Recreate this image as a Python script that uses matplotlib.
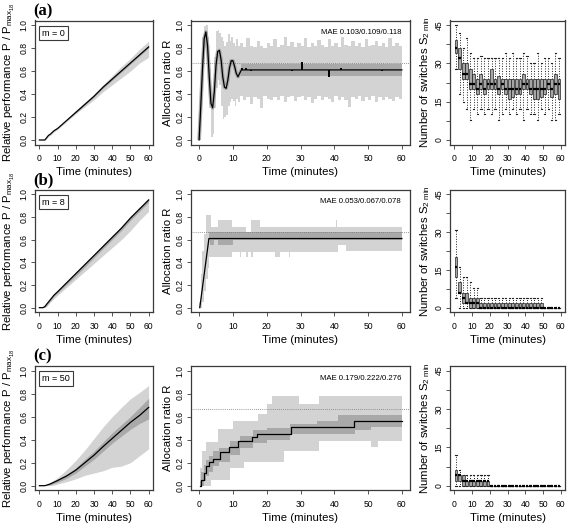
import numpy as np
import matplotlib
matplotlib.use('Agg')
import matplotlib.pyplot as plt

plt.rcParams['font.family'] = ['Liberation Sans', 'DejaVu Sans']
plt.rcParams['mathtext.fontset'] = 'custom'
plt.rcParams['mathtext.rm'] = 'Liberation Sans'
plt.rcParams['mathtext.it'] = 'Liberation Sans:italic'

## ---------------- data ----------------
panel_tags = ['(a)', '(b)', '(c)']
m_labels = ['m = 0', 'm = 8', 'm = 50']
mae_labels = ['MAE 0.103/0.109/0.118', 'MAE 0.053/0.067/0.078', 'MAE 0.179/0.222/0.276']
r_target = 0.667

# left column: relative performance (median, inner band, outer band)
perf_t = [0, 2, 3, 4, 5, 6, 8, 10, 15, 20, 25, 30, 35, 40, 45, 50, 55, 60]
perf_a = [0, 0, 0, 0.02, 0.04, 0.05, 0.08, 0.10, 0.17, 0.24, 0.31, 0.38, 0.46, 0.53, 0.60, 0.67, 0.74, 0.81]
perf_a_hi = [0, 0, 0.01, 0.03, 0.05, 0.06, 0.09, 0.11, 0.18, 0.26, 0.33, 0.40, 0.48, 0.56, 0.64, 0.71, 0.79, 0.86]
perf_a_lo = [0, 0, 0, 0.01, 0.03, 0.04, 0.07, 0.09, 0.16, 0.23, 0.29, 0.35, 0.42, 0.48, 0.54, 0.60, 0.67, 0.72]
perf_a_q3 = [0, 0, 0, 0.02, 0.04, 0.05, 0.08, 0.10, 0.17, 0.245, 0.315, 0.385, 0.465, 0.535, 0.61, 0.68, 0.75, 0.82]
perf_a_q1 = [0, 0, 0, 0.02, 0.04, 0.05, 0.08, 0.10, 0.17, 0.235, 0.305, 0.375, 0.45, 0.52, 0.59, 0.66, 0.73, 0.80]

perf_b = [0, 0, 0.01, 0.03, 0.05, 0.07, 0.11, 0.14, 0.22, 0.30, 0.38, 0.46, 0.54, 0.62, 0.70, 0.79, 0.87, 0.95]
perf_b_hi = [0, 0, 0.02, 0.04, 0.06, 0.08, 0.12, 0.15, 0.23, 0.31, 0.39, 0.47, 0.56, 0.64, 0.72, 0.81, 0.89, 0.97]
perf_b_lo = [0, 0, 0, 0.01, 0.03, 0.05, 0.08, 0.11, 0.18, 0.25, 0.32, 0.39, 0.46, 0.53, 0.60, 0.68, 0.77, 0.85]
perf_b_q3 = [0, 0, 0.015, 0.035, 0.055, 0.075, 0.115, 0.145, 0.23, 0.31, 0.39, 0.47, 0.55, 0.63, 0.71, 0.80, 0.885, 0.96]
perf_b_q1 = [0, 0, 0.005, 0.02, 0.04, 0.06, 0.10, 0.13, 0.205, 0.28, 0.36, 0.44, 0.52, 0.60, 0.68, 0.77, 0.85, 0.93]

perf_c = [0, 0, 0, 0.005, 0.01, 0.015, 0.03, 0.045, 0.085, 0.135, 0.20, 0.265, 0.34, 0.41, 0.48, 0.55, 0.61, 0.68]
perf_c_hi = [0, 0, 0, 0.01, 0.02, 0.03, 0.05, 0.07, 0.14, 0.22, 0.31, 0.41, 0.51, 0.60, 0.68, 0.755, 0.81, 0.87]
perf_c_lo = [0, 0, 0, 0, 0, 0, 0.005, 0.015, 0.035, 0.06, 0.09, 0.11, 0.13, 0.16, 0.17, 0.20, 0.26, 0.32]
perf_c_q3 = [0, 0, 0, 0.007, 0.013, 0.02, 0.04, 0.055, 0.10, 0.155, 0.23, 0.30, 0.38, 0.46, 0.53, 0.60, 0.68, 0.76]
perf_c_q1 = [0, 0, 0, 0.003, 0.007, 0.01, 0.02, 0.03, 0.065, 0.11, 0.17, 0.23, 0.30, 0.37, 0.43, 0.49, 0.54, 0.58]

# middle column: allocation ratio R
ratio_a_t = [0, 0.5, 1, 1.5, 2, 2.5, 3, 3.5, 4, 4.5, 5, 5.5, 6, 6.5, 7, 7.5, 8, 8.5, 9, 9.5,
             10, 10.5, 11, 11.5, 12, 12.5, 13, 60]
ratio_a = [0.0, 0.30, 0.62, 0.88, 0.94, 0.82, 0.55, 0.32, 0.28, 0.42, 0.65, 0.77, 0.78, 0.70,
           0.55, 0.46, 0.45, 0.52, 0.63, 0.69, 0.69, 0.64, 0.58, 0.55, 0.58, 0.61, 0.61, 0.61]
ratio_a_blip_t = [12.6, 13.8, 15.4, 27.4, 30.4, 38.4, 41.9, 54.1]
ratio_a_blip = [0.63, 0.63, 0.60, 0.60, 0.675, 0.55, 0.63, 0.60]
ratio_a_band_t = [0, 0.5, 1, 1.5, 2, 2.5, 3, 3.5, 4, 4.5, 5, 5.5, 6, 6.5, 7, 7.5, 8, 8.5, 9, 9.5,
                  10, 10.5, 11, 11.5, 12, 13, 14, 15, 16, 17, 18, 19, 20, 21, 22, 23, 24, 25,
                  26, 27, 28, 29, 30, 31, 32, 33, 34, 35, 36, 37, 38, 39, 40, 41, 42, 43, 44,
                  45, 46, 47, 48, 49, 50, 51, 52, 53, 54, 55, 56, 57, 58, 59, 60]
ratio_a_hi = [0.32, 0.66, 0.90, 0.99, 1.00, 0.90, 0.62, 0.40, 0.50, 0.72, 0.95, 0.96, 0.93, 0.90,
              0.86, 0.82, 0.85, 0.92, 0.86, 0.90, 0.84, 0.82, 0.88, 0.82, 0.84, 0.81, 0.89, 0.82,
              0.81, 0.86, 0.82, 0.80, 0.84, 0.82, 0.88, 0.81, 0.83, 0.90, 0.82, 0.85, 0.81, 0.84,
              0.82, 0.89, 0.81, 0.84, 0.82, 0.87, 0.83, 0.81, 0.88, 0.82, 0.84, 0.81, 0.90, 0.83,
              0.82, 0.86, 0.82, 0.84, 0.81, 0.88, 0.82, 0.83, 0.86, 0.82, 0.84, 0.81, 0.89, 0.82,
              0.84, 0.82, 0.82]
ratio_a_lo = [0.00, 0.25, 0.55, 0.80, 0.78, 0.52, 0.28, 0.03, 0.05, 0.28, 0.45, 0.52, 0.48, 0.30,
              0.18, 0.20, 0.22, 0.30, 0.33, 0.36, 0.34, 0.30, 0.36, 0.33, 0.38, 0.35, 0.37, 0.31,
              0.37, 0.36, 0.28, 0.38, 0.36, 0.35, 0.37, 0.35, 0.38, 0.33, 0.37, 0.38, 0.34, 0.37,
              0.38, 0.35, 0.37, 0.32, 0.36, 0.38, 0.35, 0.37, 0.36, 0.33, 0.38, 0.35, 0.37, 0.35,
              0.29, 0.37, 0.36, 0.38, 0.34, 0.37, 0.35, 0.38, 0.33, 0.37, 0.35, 0.37, 0.36, 0.34,
              0.37, 0.36, 0.36]
ratio_a_dark_t = [12.5, 60]
ratio_a_q3 = [0.665, 0.665]
ratio_a_q1 = [0.556, 0.556]

ratio_b_t = [0.2, 2.9, 60]
ratio_b = [0.0, 0.61, 0.61]
ratio_b_band_t = [0, 0.5, 1, 1.5, 2, 2.5, 3, 3.6, 5.6, 9.6, 12, 12.5, 14, 14.5, 15.5, 16, 18,
                  22.5, 24, 26.5, 27, 40.5, 40.8, 41, 43.5, 60]
ratio_b_hi = [0.05, 0.30, 0.50, 0.65, 0.82, 0.82, 0.82, 0.71, 0.77, 0.71, 0.71, 0.71, 0.67,
              0.67, 0.77, 0.77, 0.71, 0.71, 0.71, 0.71, 0.71, 0.77, 0.71, 0.71, 0.71, 0.71]
ratio_b_lo = [0.00, 0.00, 0.05, 0.15, 0.25, 0.35, 0.45, 0.45, 0.45, 0.49, 0.45, 0.49, 0.45,
              0.49, 0.45, 0.49, 0.49, 0.45, 0.49, 0.45, 0.49, 0.49, 0.49, 0.55, 0.50, 0.50]
ratio_b_dark_t = [3.0, 3.2, 4.5, 5.5, 10, 60]
ratio_b_q3 = [0.665, 0.665, 0.665, 0.665, 0.665, 0.665]
ratio_b_q1 = [0.595, 0.553, 0.595, 0.553, 0.595, 0.595]

ratio_c_t = [0.3, 0.7, 1.5, 2.0, 2.8, 4.2, 6.1, 8.7, 11.5, 15.7, 17.1, 27.2, 45.9, 60]
ratio_c = [0.0, 0.05, 0.11, 0.17, 0.21, 0.23, 0.29, 0.34, 0.39, 0.42, 0.45, 0.51, 0.56, 0.56]
ratio_c_band_t = [0.3, 1.0, 2.0, 3.5, 5.7, 9.0, 10.0, 13.4, 17.4, 20.0, 21.5, 25.0, 29.5,
                  35.5, 51.0, 53.0, 60]
ratio_c_hi = [0.15, 0.30, 0.38, 0.38, 0.49, 0.49, 0.56, 0.56, 0.62, 0.71, 0.78, 0.78, 0.71,
              0.78, 0.78, 0.78, 0.78]
ratio_c_lo = [0.00, 0.00, 0.00, 0.05, 0.05, 0.15, 0.15, 0.21, 0.21, 0.21, 0.21, 0.30, 0.30,
              0.39, 0.34, 0.39, 0.39]
ratio_c_dark_t = [0.3, 0.7, 1.5, 2.0, 3.0, 4.0, 6.0, 9.0, 12.0, 16.0, 20.0, 27.0, 35.0, 41.0,
                  46.0, 51.0, 60]
ratio_c_q3 = [0.04, 0.12, 0.18, 0.22, 0.26, 0.30, 0.33, 0.39, 0.43, 0.48, 0.50, 0.535, 0.565,
              0.61, 0.61, 0.61, 0.61]
ratio_c_q1 = [0.0, 0.0, 0.04, 0.08, 0.12, 0.17, 0.21, 0.27, 0.33, 0.37, 0.40, 0.45, 0.45, 0.45,
              0.48, 0.51, 0.51]

# right column: switches per 2-min interval (box at the interval centre)
switch_t = [1, 3, 5, 7, 9, 11, 13, 15, 17, 19, 21, 23, 25, 27, 29, 31, 33, 35, 37, 39,
            41, 43, 45, 47, 49, 51, 53, 55, 57, 59]
sw_a_q1 = [34, 28, 24, 24, 20, 20, 18, 20, 18, 20, 20, 20, 18, 20, 18, 16, 17, 18, 18, 20,
           20, 18, 16, 16, 17, 18, 20, 17, 18, 16]
sw_a_med = [36, 32, 26, 26, 22, 22, 20, 22, 20, 22, 22, 22, 20, 22, 20, 20, 20, 20, 20, 22,
            22, 20, 20, 20, 20, 20, 22, 20, 22, 22]
sw_a_q3 = [39, 36, 30, 30, 28, 26, 24, 26, 24, 24, 28, 24, 25, 24, 24, 24, 24, 24, 24, 26,
           24, 24, 24, 24, 24, 24, 24, 24, 26, 24]
sw_a_lo = [28, 18, 15, 12, 8, 12, 10, 12, 10, 12, 10, 12, 8, 10, 12, 10, 12, 10, 12, 8,
           12, 10, 10, 8, 12, 10, 12, 8, 8, 10]
sw_a_hi = [45, 42, 36, 40, 34, 32, 32, 33, 32, 32, 32, 32, 32, 32, 34, 32, 34, 32, 32, 34,
           33, 30, 30, 34, 30, 32, 32, 30, 34, 32]

sw_b_q1 = [12, 6, 2, 2, 0, 0, 0] + [0] * 18 + [0] * 5
sw_b_med = [16, 6, 4, 2, 2, 2, 2] + [0] * 18 + [0] * 5
sw_b_q3 = [20, 10, 6, 6, 4, 4, 4] + [2] * 18 + [0] * 5
sw_b_lo = [4, 0, 0, 0, 0, 0, 0] + [0] * 18 + [0] * 5
sw_b_hi = [31, 16, 12, 12, 10, 8, 8] + [4] * 18 + [0] * 5

sw_c_q1 = [2, 2, 0, 0, 0, 0, 0, 0, 0, 0] + [0] * 20
sw_c_med = [4, 4, 2, 2, 2, 2, 2, 2, 2, 2] + [0] * 20
sw_c_q3 = [6, 4, 4, 2, 2, 2, 2, 2, 2, 2] + [0] * 20
sw_c_lo = [0, 0, 0, 0, 0, 0, 0, 0, 0, 0] + [0] * 20
sw_c_hi = [12, 6, 4, 4, 4, 4, 4, 4, 4, 4] + [0] * 20

perf_rows = [(perf_a, perf_a_lo, perf_a_hi, perf_a_q1, perf_a_q3),
             (perf_b, perf_b_lo, perf_b_hi, perf_b_q1, perf_b_q3),
             (perf_c, perf_c_lo, perf_c_hi, perf_c_q1, perf_c_q3)]
switch_rows = [(sw_a_q1, sw_a_med, sw_a_q3, sw_a_lo, sw_a_hi),
               (sw_b_q1, sw_b_med, sw_b_q3, sw_b_lo, sw_b_hi),
               (sw_c_q1, sw_c_med, sw_c_q3, sw_c_lo, sw_c_hi)]

## ---------------- layout (pixels of a 568x527 canvas) ----------------
W, H = 568, 527
cols = [(35, 153), (191, 410), (450, 565)]
rows = [(20.5, 144.6), (189.8, 312.2), (366, 490.3)]
light, dark, frame = '#d3d3d3', '#a9a9a9', '#3a3a3a'

fig = plt.figure(figsize=(W / 100, H / 100), dpi=100)


def r_axes(c, r, ymax, yticks, ylabels):
    x0, x1 = cols[c]
    y0, y1 = rows[r]
    ax = fig.add_axes([x0 / W, 1 - y1 / H, (x1 - x0) / W, (y1 - y0) / H])
    ax.set_xlim(-2.4, 62.4)
    ax.set_ylim(-0.04 * ymax, 1.04 * ymax)
    for s in ax.spines.values():
        s.set_color(frame)
        s.set_linewidth(0.9)
    ax.set_xticks([0, 10, 20, 30, 40, 50, 60])
    ax.set_yticks(yticks)
    ax.set_yticklabels(ylabels, rotation=90, va='center')
    ax.tick_params(axis='both', direction='out', length=3, width=0.6,
                   color=frame, labelsize=6.2)
    ax.tick_params(axis='x', pad=4)
    ax.tick_params(axis='y', pad=1.5)
    ax.set_xlabel('Time (minutes)', fontsize=8.2, labelpad=3)
    return ax


frac_ticks = [0, 0.2, 0.4, 0.6, 0.8, 1.0]
frac_labels = ['0.0', '0.2', '0.4', '0.6', '0.8', '1.0']

for r in range(3):
    # ---- left: relative performance ----
    line, lo, hi, q1, q3 = perf_rows[r]
    ax = r_axes(0, r, 1.0, frac_ticks, frac_labels)
    ax.fill_between(perf_t, lo, hi, color=light, lw=0)
    ax.fill_between(perf_t, q1, q3, color=dark, lw=0)
    ax.plot(perf_t, line, color='black', lw=0.9)
    ax.text(0.06, 0.935, m_labels[r], transform=ax.transAxes, fontsize=6.5,
            ha='left', va='top',
            bbox=dict(boxstyle='square,pad=0.3', fc='white', ec=frame, lw=0.8))
    ax.set_ylabel(r'Relative performance P / P$_{\mathregular{max}_{18}}$',
                  fontsize=8.2, labelpad=2)
    fig.text(33 / W, 1 - (rows[r][0] - 17.5) / H, panel_tags[r], fontsize=12,
             fontweight='bold', family='Liberation Serif', ha='left', va='top')

    # ---- right: number of switches ----
    q1s, meds, q3s, los, his = switch_rows[r]
    ax3 = r_axes(2, r, 45, [0, 7.5, 15, 22.5, 30, 37.5, 45],
                 ['0', '', '15', '', '30', '', '45'])
    stats = [dict(med=m, q1=a, q3=b, whislo=l, whishi=h, fliers=[])
             for a, m, b, l, h in zip(q1s, meds, q3s, los, his)]
    ax3.bxp(stats, positions=switch_t, widths=1.6, capwidths=0.7,
            patch_artist=True, showfliers=False, manage_ticks=False,
            boxprops=dict(facecolor='#a6a6a6', edgecolor='#222222', lw=0.5),
            medianprops=dict(color='black', lw=1.6, solid_capstyle='butt'),
            whiskerprops=dict(color='#222222', lw=0.7, linestyle=(0, (1, 1.6))),
            capprops=dict(color='#222222', lw=0.8))
    ax3.set_xticks([0, 10, 20, 30, 40, 50, 60])
    ax3.set_xticklabels(['0', '10', '20', '30', '40', '50', '60'])
    ax3.set_ylabel(r'Number of switches S$_{\mathregular{2\ min}}$', fontsize=8.2,
                   labelpad=2)

# ---- middle: allocation ratio ----
mid_rows = [
    (ratio_a_band_t, ratio_a_lo, ratio_a_hi, ratio_a_dark_t, ratio_a_q1, ratio_a_q3,
     ratio_a_t, ratio_a, 'default'),
    (ratio_b_band_t, ratio_b_lo, ratio_b_hi, ratio_b_dark_t, ratio_b_q1, ratio_b_q3,
     ratio_b_t, ratio_b, 'default'),
    (ratio_c_band_t, ratio_c_lo, ratio_c_hi, ratio_c_dark_t, ratio_c_q1, ratio_c_q3,
     ratio_c_t, ratio_c, 'steps-post'),
]
for r, (bt, blo, bhi, dt, dq1, dq3, lt, lv, ds) in enumerate(mid_rows):
    ax = r_axes(1, r, 1.0, frac_ticks, frac_labels)
    ax.fill_between(bt, blo, bhi, step='post', color=light, lw=0)
    ax.fill_between(dt, dq1, dq3, step='post', color=dark, lw=0)
    if r == 0:
        # darker halo that hugs the damped oscillation
        ax.plot(lt, lv, color=dark, lw=2.6, solid_capstyle='butt')
    ax.axhline(r_target, color='#777777', lw=0.6, ls=(0, (1, 1.5)))
    ax.plot(lt, lv, color='black', lw=0.9, drawstyle=ds)
    if r == 0:
        ax.vlines(ratio_a_blip_t, 0.61, ratio_a_blip, color='black', lw=1.4)
    ax.text(0.96, 0.93, mae_labels[r], transform=ax.transAxes, fontsize=5.6,
            ha='right', va='top')
    ax.set_ylabel('Allocation ratio R', fontsize=8.2, labelpad=2)

fig.savefig('out.png', dpi=100)
